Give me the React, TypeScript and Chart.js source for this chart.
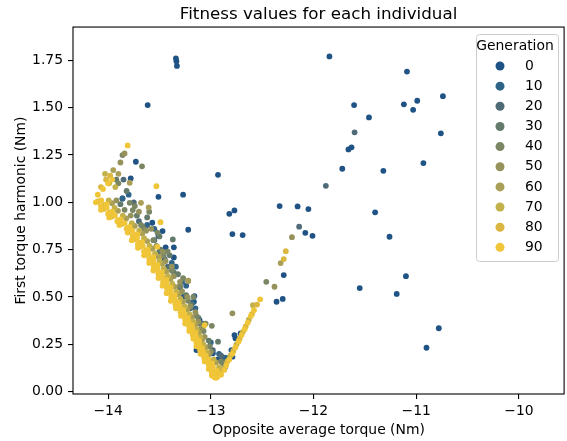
import React, { useEffect, useRef } from 'react';
import { Chart, registerables } from 'chart.js';

Chart.register(...registerables);

const chartTitle = 'Fitness values for each individual';
const xAxisTitle = 'Opposite average torque (Nm)';
const yAxisTitle = 'First torque harmonic (Nm)';
const legendTitle = 'Generation';

const generations = [0, 10, 20, 30, 40, 50, 60, 70, 80, 90];
const genColors = ['#1f5385', '#2f6387', '#4f6b78', '#647b6c', '#7b8764', '#96925c', '#aa9f56', '#c3b24c', '#dbb640', '#f0c537'];

const xTicks = [-14, -13, -12, -11, -10];
const yTicks = [0, 0.25, 0.5, 0.75, 1.0, 1.25, 1.5, 1.75];
const xRange = [-14.342, -9.56];
const yRange = [-0.012, 1.925];

const gen0Points = [
  [-13.615, 1.513], [-13.34, 1.76], [-13.335, 1.745], [-13.33, 1.72], [-13.27, 1.04], [-12.93, 1.145],
  [-12.82, 0.939], [-12.77, 0.957], [-12.79, 0.832], [-12.69, 0.827], [-12.33, 0.98],
  [-11.845, 1.77], [-11.09, 1.69], [-11.605, 1.513], [-11.12, 1.517], [-10.99, 1.536], [-11.03, 1.488],
  [-10.74, 1.56], [-11.46, 1.448], [-10.76, 1.364], [-11.66, 1.279], [-11.63, 1.29], [-11.72, 1.177],
  [-11.32, 1.166], [-10.93, 1.207], [-12.155, 0.978], [-12.05, 0.964], [-11.4, 0.947],
  [-12.08, 0.839], [-12.01, 0.823], [-11.26, 0.818], [-12.29, 0.616], [-11.1, 0.61], [-11.55, 0.547],
  [-11.19, 0.516], [-12.3, 0.49], [-12.36, 0.475], [-10.78, 0.335], [-10.9, 0.232],
  [-13.73, 1.214], [-13.78, 1.126], [-13.51, 1.029], [-13.86, 1.02], [-13.57, 0.892], [-13.47, 0.848],
  [-13.51, 0.822], [-13.44, 0.762], [-13.36, 0.762], [-13.36, 0.709], [-13.22, 0.855], [-13.16, 0.505],
  [-13.165, 0.475], [-13.14, 0.22], [-12.76, 0.282], [-12.77, 0.299], [-12.71, 0.308], [-12.98, 0.203],
  [-12.88, 0.158], [-12.85, 0.176], [-12.79, 0.185], [-13.11, 0.378], [-12.93, 0.17], [-12.9, 0.185],
  [-13.27, 0.5], [-13.14, 0.36], [-13.11, 0.29],
];
const gen10Points = [
  [-13.8, 1.04], [-13.62, 0.88], [-13.5, 0.74], [-13.38, 0.68], [-13.28, 0.58], [-13.18, 0.47],
  [-13.08, 0.36], [-13.0, 0.26], [-12.92, 0.2], [-12.86, 0.18], [-12.8, 0.22], [-13.86, 1.02], [-13.45, 0.7],
  [-13.55, 0.86], [-13.34, 0.66], [-13.24, 0.56], [-13.15, 0.44],
];
const gen20Points = [
  [-11.88, 1.087], [-12.14, 0.871], [-11.6, 1.369], [-13.85, 1.12], [-13.7, 0.9], [-13.55, 0.8],
  [-13.42, 0.66], [-13.3, 0.55], [-13.2, 0.44], [-13.1, 0.33], [-12.98, 0.22], [-12.9, 0.19], [-13.75, 1.0],
];
const gen30Points = [
  [-13.88, 0.99], [-13.66, 0.87], [-13.49, 0.75], [-13.36, 0.63], [-13.24, 0.51], [-13.12, 0.39],
  [-13.02, 0.27], [-12.88, 0.15], [-13.37, 0.804], [-12.93, 0.264], [-13.92, 1.12], [-13.82, 1.06],
  [-13.72, 0.93], [-13.45, 0.6],
  [-13.62, 0.92], [-13.5, 0.82], [-13.4, 0.72], [-13.32, 0.62], [-13.19, 0.46], [-13.1, 0.36],
];
const gen40Points = [
  [-13.84, 0.96], [-13.68, 0.88], [-13.56, 0.8], [-13.46, 0.72], [-13.38, 0.64], [-13.3, 0.56],
  [-13.22, 0.48], [-13.14, 0.4], [-13.07, 0.32], [-13.01, 0.24], [-12.9, 0.16],
  [-13.86, 1.249], [-13.67, 1.19], [-13.79, 0.997], [-13.76, 0.959], [-13.66, 0.862], [-12.99, 0.348],
  [-12.46, 0.58], [-13.9, 1.1], [-13.6, 0.95],
  [-13.74, 0.98], [-13.52, 0.84], [-13.42, 0.74], [-13.27, 0.6], [-13.17, 0.5], [-13.05, 0.36],
];
const gen50Points = [
  [-13.92, 1.01], [-13.78, 0.93], [-13.63, 0.85], [-13.53, 0.77], [-13.44, 0.69], [-13.36, 0.61],
  [-13.28, 0.53], [-13.2, 0.45], [-13.12, 0.37], [-13.06, 0.29], [-13.0, 0.21], [-12.86, 0.13],
  [-13.88, 1.21], [-13.84, 1.258], [-13.22, 0.586], [-12.79, 0.414], [-12.21, 0.816], [-12.38, 0.554],
  [-13.7, 0.95], [-13.58, 0.86], [-13.47, 0.74], [-13.38, 0.66], [-13.3, 0.58], [-13.23, 0.5],
  [-13.15, 0.42], [-13.08, 0.34],
];
const gen60Points = [
  [-13.962, 0.995], [-13.904, 0.955], [-13.824, 0.915], [-13.74, 0.875], [-13.668, 0.835], [-13.62, 0.795],
  [-13.568, 0.755], [-13.516, 0.715], [-13.474, 0.675], [-13.434, 0.635], [-13.392, 0.595], [-13.352, 0.555],
  [-13.312, 0.515], [-13.272, 0.475], [-13.23, 0.435], [-13.188, 0.395], [-13.148, 0.355], [-13.116, 0.315],
  [-13.084, 0.275], [-13.054, 0.235], [-13.022, 0.195], [-12.95, 0.155], [-12.894, 0.115],
  [-13.95, 1.17], [-13.9, 1.15], [-13.68, 0.997], [-13.605, 0.973], [-13.79, 1.103], [-13.5, 0.709],
  [-13.22, 0.584], [-12.32, 0.679],
];
const gen70Points = [
  [-13.994, 1.01], [-13.937, 0.97], [-13.857, 0.93], [-13.77, 0.89], [-13.697, 0.85], [-13.65, 0.81],
  [-13.597, 0.77], [-13.543, 0.73], [-13.5, 0.69], [-13.46, 0.65], [-13.416, 0.61], [-13.376, 0.57],
  [-13.336, 0.53], [-13.296, 0.49], [-13.253, 0.45], [-13.209, 0.41], [-13.169, 0.37], [-13.136, 0.33],
  [-13.102, 0.29], [-13.072, 0.25], [-13.039, 0.21], [-12.973, 0.17], [-12.92, 0.13], [-12.91, 0.1],
  [-14.03, 1.15], [-13.99, 1.1], [-13.93, 1.08], [-12.81, 0.19], [-12.75, 0.25], [-12.69, 0.315],
  [-12.63, 0.38], [-12.59, 0.457],
];
const gen80Points = [
  [-14.099, 1.005], [-14.036, 0.985], [-14.047, 0.965], [-13.981, 0.945], [-13.967, 0.925], [-13.901, 0.905],
  [-13.87, 0.885], [-13.81, 0.865], [-13.792, 0.845], [-13.735, 0.825], [-13.75, 0.805], [-13.69, 0.785],
  [-13.692, 0.765], [-13.635, 0.745], [-13.633, 0.725], [-13.579, 0.705], [-13.585, 0.685], [-13.534, 0.665],
  [-13.545, 0.645], [-13.494, 0.625], [-13.496, 0.605], [-13.448, 0.585], [-13.456, 0.565], [-13.408, 0.545],
  [-13.416, 0.525], [-13.368, 0.505], [-13.376, 0.485], [-13.328, 0.465], [-13.327, 0.445], [-13.282, 0.425],
  [-13.279, 0.405], [-13.237, 0.385], [-13.239, 0.365], [-13.197, 0.345], [-13.2, 0.325], [-13.161, 0.305],
  [-13.162, 0.285], [-13.126, 0.265], [-13.132, 0.245], [-13.096, 0.225], [-13.094, 0.205], [-13.06, 0.185],
  [-13.048, 0.165], [-13.003, 0.145], [-13.005, 0.125], [-12.954, 0.105], [-12.98, 0.09], [-12.946, 0.075],
  [-14.07, 1.08], [-14.02, 1.12], [-13.98, 1.14], [-12.84, 0.16], [-12.78, 0.215], [-12.72, 0.28],
  [-12.66, 0.345], [-12.6, 0.41], [-12.55, 0.46], [-12.27, 0.742], [-12.29, 0.7],
];
const gen90Points = [
  [-14.12, 1.0], [-14.067, 1.01], [-14.015, 0.99], [-14.07, 0.96], [-14.014, 0.97], [-13.959, 0.95],
  [-13.99, 0.92], [-13.934, 0.93], [-13.879, 0.91], [-13.89, 0.88], [-13.84, 0.89], [-13.79, 0.87],
  [-13.81, 0.84], [-13.763, 0.85], [-13.715, 0.83], [-13.77, 0.8], [-13.72, 0.81], [-13.67, 0.79],
  [-13.71, 0.76], [-13.663, 0.77], [-13.615, 0.75], [-13.65, 0.72], [-13.606, 0.73], [-13.561, 0.71],
  [-13.6, 0.68], [-13.559, 0.69], [-13.517, 0.67], [-13.56, 0.64], [-13.519, 0.65], [-13.477, 0.63],
  [-13.51, 0.6], [-13.472, 0.61], [-13.432, 0.59], [-13.47, 0.56], [-13.432, 0.57], [-13.392, 0.55],
  [-13.43, 0.52], [-13.392, 0.53], [-13.352, 0.51], [-13.39, 0.48], [-13.352, 0.49], [-13.312, 0.47],
  [-13.34, 0.44], [-13.305, 0.45], [-13.268, 0.43], [-13.29, 0.4], [-13.258, 0.41], [-13.223, 0.39],
  [-13.25, 0.36], [-13.218, 0.37], [-13.183, 0.35], [-13.21, 0.32], [-13.181, 0.33], [-13.149, 0.31],
  [-13.17, 0.28], [-13.144, 0.29], [-13.114, 0.27], [-13.14, 0.24], [-13.114, 0.25], [-13.084, 0.23],
  [-13.1, 0.2], [-13.077, 0.21], [-13.05, 0.19], [-13.06, 0.16], [-13.025, 0.17], [-12.988, 0.15],
  [-13.02, 0.12], [-12.979, 0.13], [-12.937, 0.11], [-12.99, 0.085], [-12.964, 0.095], [-12.934, 0.08],
  [-14.1, 1.04], [-14.05, 1.07], [-14.0, 1.1], [-13.96, 1.12], [-12.96, 0.075], [-12.9, 0.09], [-12.87, 0.115],
  [-12.85, 0.14], [-12.82, 0.17], [-12.79, 0.2], [-12.76, 0.235], [-12.73, 0.265], [-12.7, 0.3],
  [-12.67, 0.33], [-12.64, 0.365], [-12.61, 0.4], [-12.58, 0.43], [-12.52, 0.488],
  [-13.81, 1.3], [-13.53, 1.085], [-13.49, 0.895], [-13.52, 0.765], [-13.06, 0.352],
  [-14.07, 0.98], [-14.0, 0.94], [-13.91, 0.9], [-13.82, 0.86], [-13.76, 0.82], [-13.71, 0.78],
  [-13.65, 0.74], [-13.6, 0.7], [-13.555, 0.66], [-13.51, 0.62], [-13.465, 0.58], [-13.425, 0.54],
  [-13.385, 0.5], [-13.345, 0.46], [-13.295, 0.42], [-13.25, 0.38], [-13.21, 0.34], [-13.175, 0.3],
  [-13.14, 0.26], [-13.105, 0.22], [-13.065, 0.18], [-13.02, 0.14], [-12.99, 0.1],
];

const seriesPoints = [gen0Points, gen10Points, gen20Points, gen30Points, gen40Points, gen50Points, gen60Points, gen70Points, gen80Points, gen90Points];

const FONT = 'DejaVu Sans';
const TICK_SIZE = 13.9;

const framePlugin = {
  id: 'frame',
  afterDatasetsDraw(chart: any) {
    const { ctx, chartArea } = chart;
    ctx.save();
    ctx.strokeStyle = '#000';
    ctx.lineWidth = 1.1;
    ctx.strokeRect(chartArea.left, chartArea.top, chartArea.right - chartArea.left, chartArea.bottom - chartArea.top);
    ctx.restore();
  },
};

const legendPlugin = {
  id: 'genLegend',
  afterDraw(chart: any) {
    const { ctx } = chart;
    const left = 476.5, top = 34.5, w = 82, h = 227, r = 3;
    ctx.save();
    ctx.beginPath();
    ctx.moveTo(left + r, top);
    ctx.lineTo(left + w - r, top);
    ctx.arcTo(left + w, top, left + w, top + r, r);
    ctx.lineTo(left + w, top + h - r);
    ctx.arcTo(left + w, top + h, left + w - r, top + h, r);
    ctx.lineTo(left + r, top + h);
    ctx.arcTo(left, top + h, left, top + h - r, r);
    ctx.lineTo(left, top + r);
    ctx.arcTo(left, top, left + r, top, r);
    ctx.closePath();
    ctx.fillStyle = 'rgba(255,255,255,0.8)';
    ctx.fill();
    ctx.strokeStyle = '#cccccc';
    ctx.lineWidth = 1;
    ctx.stroke();
    ctx.fillStyle = '#000';
    ctx.font = `${TICK_SIZE}px "${FONT}"`;
    ctx.textAlign = 'center';
    ctx.textBaseline = 'middle';
    ctx.fillText(legendTitle, 515, 46);
    chart.data.datasets.forEach((ds: any, i: number) => {
      const y = 66 + 20.15 * i;
      ctx.beginPath();
      ctx.arc(500, y, 4.5, 0, Math.PI * 2);
      ctx.fillStyle = ds.backgroundColor;
      ctx.fill();
      ctx.fillStyle = '#000';
      ctx.textAlign = 'left';
      ctx.fillText(ds.label, 525, y);
    });
    ctx.restore();
  },
};

const fmtX = (v: number) => (v < 0 ? '\u2212' + Math.abs(v) : String(v));

export default function App() {
  const ref = useRef<HTMLCanvasElement | null>(null);
  useEffect(() => {
    document.body.style.margin = '0';
    if (!ref.current) return;
    Chart.defaults.font.family = FONT;
    const chart = new Chart(ref.current, {
      type: 'scatter',
      data: {
        datasets: generations.map((g, i) => ({
          label: String(g),
          data: seriesPoints[i].map(([x, y]) => ({ x, y })),
          backgroundColor: genColors[i],
          borderColor: genColors[i],
          pointRadius: 2.9,
          pointBorderWidth: 0,
          pointHoverRadius: 2.9,
          order: 9 - i,
        })),
      },
      options: {
        responsive: false,
        animation: false,
        devicePixelRatio: 1,
        layout: { padding: { left: 0, right: 1, top: 0, bottom: 0 } },
        plugins: {
          legend: { display: false },
          tooltip: { enabled: false },
          title: {
            display: true,
            text: chartTitle,
            color: '#000',
            fullSize: false,
            font: { family: FONT, size: 16.7, weight: 'normal' },
            padding: { top: 5, bottom: 2 },
          },
        },
        scales: {
          x: {
            type: 'linear',
            min: xRange[0],
            max: xRange[1],
            afterBuildTicks: (s: any) => { s.ticks = xTicks.map((v) => ({ value: v })); },
            afterFit: (s: any) => { s.height = 47; },
            ticks: {
              color: '#000',
              font: { family: FONT, size: TICK_SIZE },
              padding: 4,
              maxRotation: 0,
              autoSkip: false,
              callback: (v: any) => fmtX(Number(v)),
            },
            grid: { drawOnChartArea: false, drawTicks: true, tickLength: 5, color: '#000', lineWidth: 1.1 },
            border: { display: false },
            title: {
              display: true,
              text: xAxisTitle,
              color: '#000',
              font: { family: FONT, size: TICK_SIZE },
              padding: { top: 0, bottom: 2.5 },
            },
          },
          y: {
            type: 'linear',
            min: yRange[0],
            max: yRange[1],
            afterBuildTicks: (s: any) => { s.ticks = yTicks.map((v) => ({ value: v })); },
            afterFit: (s: any) => { s.width = 73; },
            ticks: {
              color: '#000',
              font: { family: FONT, size: TICK_SIZE },
              padding: 5,
              autoSkip: false,
              callback: (v: any) => Number(v).toFixed(2),
            },
            grid: { drawOnChartArea: false, drawTicks: true, tickLength: 5, color: '#000', lineWidth: 1.1 },
            border: { display: false },
            title: {
              display: true,
              text: yAxisTitle,
              color: '#000',
              font: { family: FONT, size: TICK_SIZE },
              padding: { top: 13, bottom: 0 },
            },
          },
        },
      },
      plugins: [framePlugin, legendPlugin],
    } as any);
    return () => chart.destroy();
  }, []);
  return (
    <div style={{ width: 567, height: 441 }}>
      <canvas ref={ref} width={567} height={441} style={{ display: 'block' }} />
    </div>
  );
}
